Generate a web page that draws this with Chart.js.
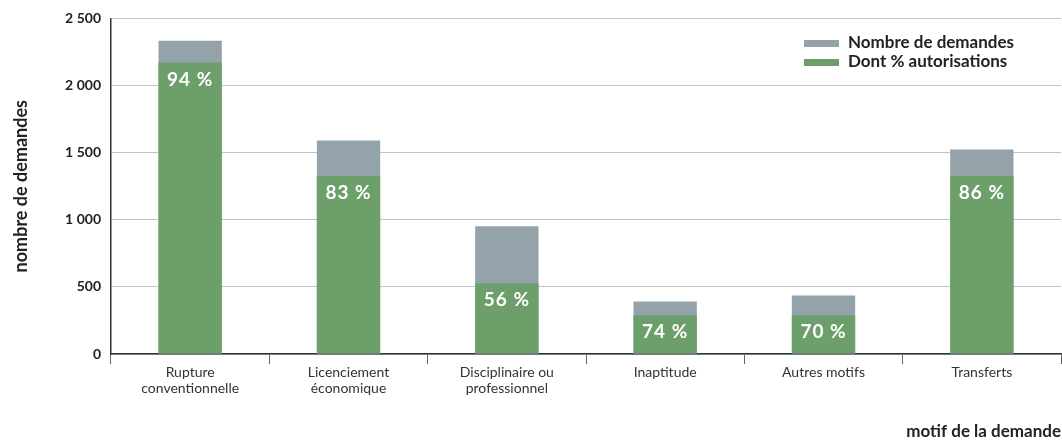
<!DOCTYPE html>
<html lang="fr">
<head>
<meta charset="utf-8">
<title>Demandes par motif</title>
<script src="https://cdn.jsdelivr.net/npm/chart.js"></script>
<style>
  body { margin: 0; background: #fff; }
  #wrap { width: 1062px; height: 442px; }
</style>
</head>
<body>
<div id="wrap"><canvas id="chart" width="1062" height="442"></canvas></div>
<script>
// values
const motifs = [
  ['Rupture', 'conventionnelle'],
  ['Licenciement', 'économique'],
  ['Disciplinaire ou', 'professionnel'],
  'Inaptitude',
  'Autres motifs',
  'Transferts'
];
const nbDemandes = [2333, 1590, 951, 392, 436, 1524];
const nbAutorisees = [2171, 1326, 527, 289, 289, 1328];
const pctAutorisations = [94, 83, 56, 74, 70, 86];
const yTicks = [0, 500, 1000, 1500, 2000, 2500];

const GRAY = '#94a3aa';
const GREEN = '#6c9f6a';
const FONT = 'Lato, "DejaVu Sans", sans-serif';

function fmt(v) {
  return String(v).replace(/\B(?=(\d{3})+(?!\d))/g, ' ');
}

// white % labels just below the top of each green bar
const pctLabels = {
  id: 'pctLabels',
  afterDatasetsDraw(chart) {
    const meta = chart.getDatasetMeta(1);
    const ctx = chart.ctx;
    ctx.save();
    ctx.fillStyle = '#fff';
    ctx.font = 'bold 19px ' + FONT;
    ctx.letterSpacing = '1px';
    ctx.textAlign = 'center';
    ctx.textBaseline = 'middle';
    meta.data.forEach((bar, i) => {
      ctx.fillText(pctAutorisations[i] + ' %', bar.x, bar.y + 17);
    });
    ctx.restore();
  }
};

// legend in the top right corner of the plot
const boxLegend = {
  id: 'boxLegend',
  afterDraw(chart) {
    const ctx = chart.ctx;
    const items = [
      { label: chart.data.datasets[0].label, color: GRAY, y: 43 },
      { label: chart.data.datasets[1].label, color: GREEN, y: 62 }
    ];
    ctx.save();
    ctx.font = 'bold 17px ' + FONT;
    ctx.textBaseline = 'middle';
    ctx.textAlign = 'left';
    items.forEach(it => {
      ctx.fillStyle = it.color;
      ctx.fillRect(804, it.y - 3, 35, 7);
      ctx.fillStyle = '#222';
      ctx.fillText(it.label, 848, it.y);
    });
    ctx.restore();
  }
};

new Chart(document.getElementById('chart'), {
  type: 'bar',
  data: {
    labels: motifs,
    datasets: [
      {
        label: 'Nombre de demandes',
        data: nbDemandes,
        backgroundColor: GRAY,
        order: 1
      },
      {
        label: 'Dont % autorisations',
        data: nbAutorisees,
        backgroundColor: GREEN,
        order: 0
      }
    ]
  },
  options: {
    responsive: false,
    animation: false,
    layout: { padding: { top: 15, right: 1, left: 0, bottom: 0 } },
    datasets: {
      bar: { grouped: false, barPercentage: 0.4, categoryPercentage: 1, borderWidth: 0 }
    },
    plugins: {
      legend: { display: false },
      tooltip: { enabled: false }
    },
    scales: {
      x: {
        afterFit: s => { s.height = 88; },
        grid: {
          display: true,
          drawOnChartArea: false,
          drawTicks: true,
          tickLength: 10,
          offset: true,
          color: '#666'
        },
        border: { color: '#333', width: 1.5 },
        ticks: {
          color: '#333',
          font: { family: FONT, size: 14, lineHeight: 1.15 },
          padding: 0,
          maxRotation: 0
        },
        title: {
          display: true,
          text: 'motif de la demande',
          align: 'end',
          color: '#222',
          font: { family: FONT, size: 17, weight: 'bold' },
          padding: { top: 0, bottom: 0 }
        }
      },
      y: {
        min: 0,
        max: 2500,
        afterFit: s => { s.width = 111; },
        afterBuildTicks: s => { s.ticks = yTicks.map(v => ({ value: v })); },
        grid: { color: '#b9c4cc', drawTicks: false },
        border: { color: '#333', width: 1.5 },
        ticks: {
          color: '#222',
          padding: 10,
          font: { family: FONT, size: 14, weight: 'bold' },
          callback: v => fmt(v)
        },
        title: {
          display: true,
          text: 'nombre de demandes',
          color: '#222',
          font: { family: FONT, size: 18, weight: 'bold' },
          padding: { top: 10, bottom: 0 }
        }
      }
    }
  },
  plugins: [pctLabels, boxLegend]
});
</script>
</body>
</html>
